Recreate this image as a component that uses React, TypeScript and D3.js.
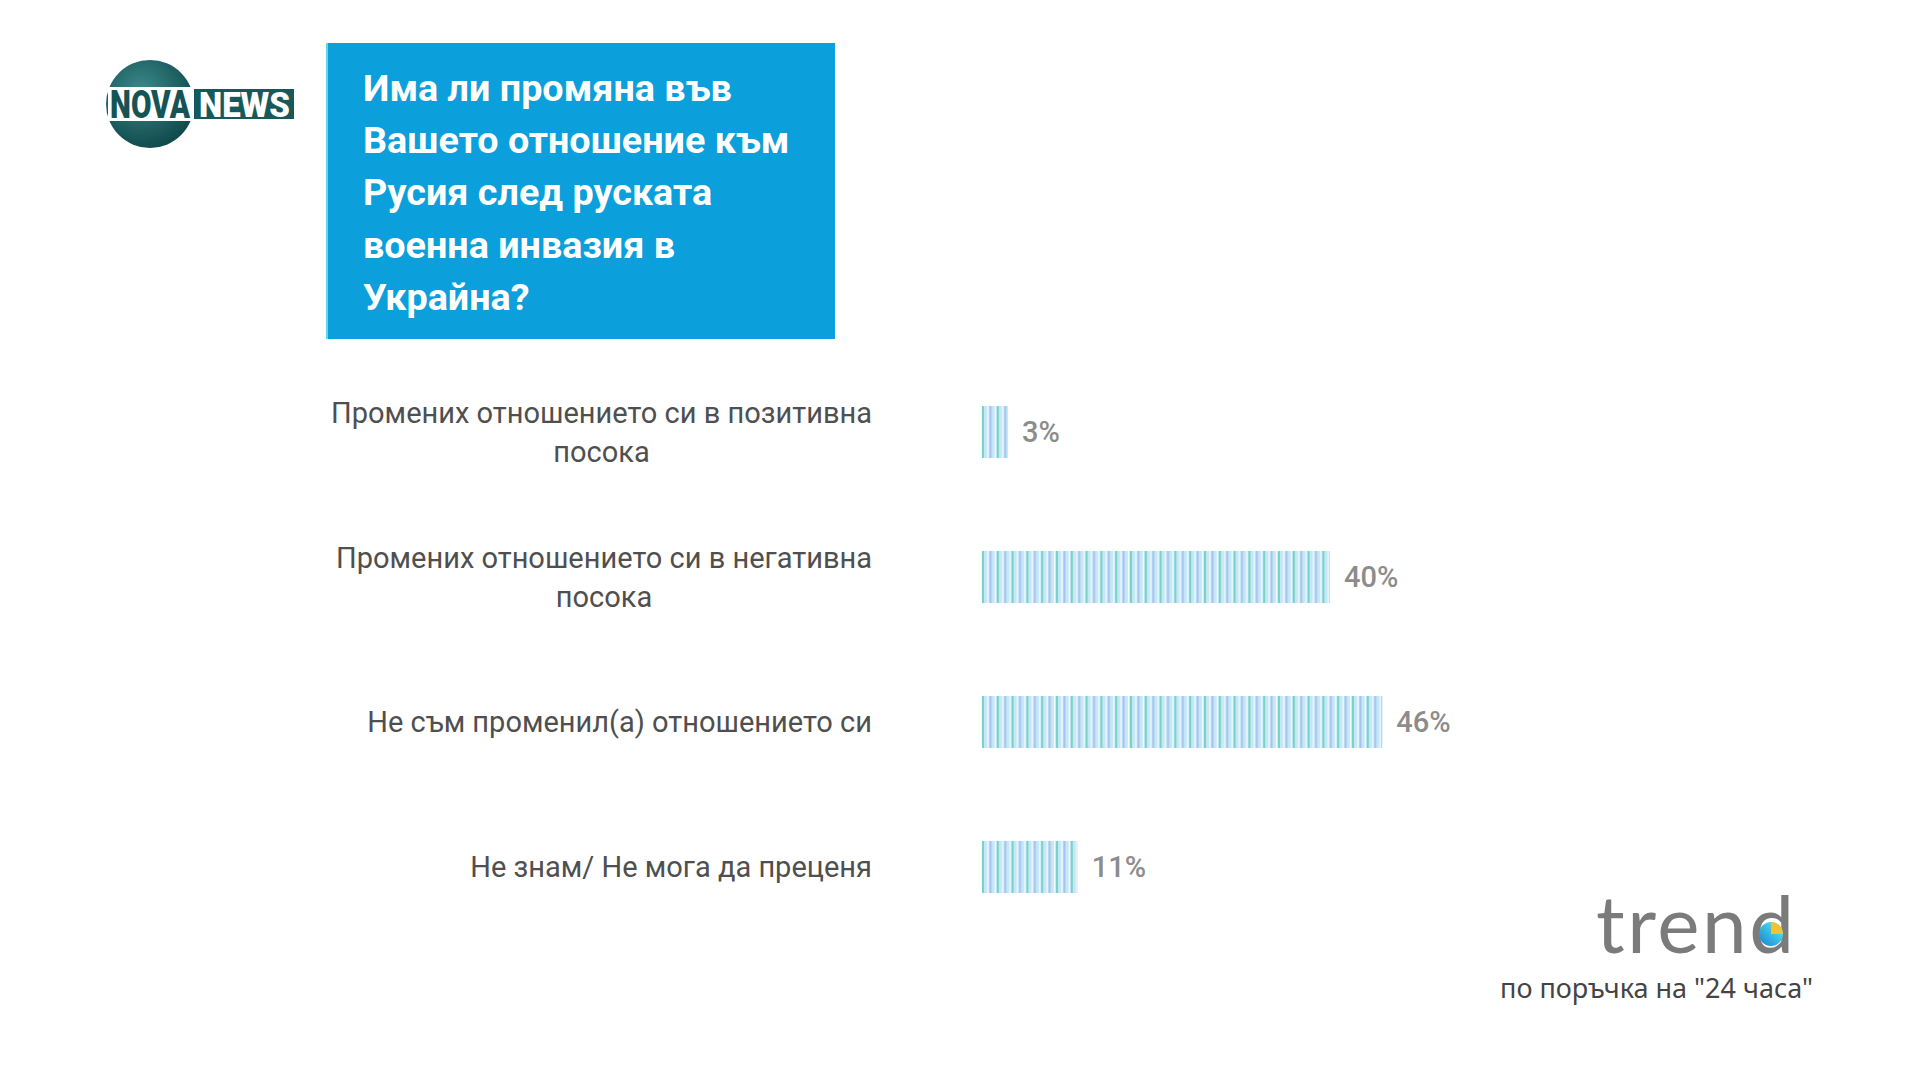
import React, { useEffect, useRef } from "react";
import * as d3 from "d3";

const titleLines = ["Има ли промяна във", "Вашето отношение към", "Русия след руската", "военна инвазия в", "Украйна?"];
const categories = [
  "Промених отношението си в позитивна\nпосока",
  "Промених отношението си в негативна\nпосока",
  "Не съм променил(а) отношението си",
  "Не знам/ Не мога да преценя",
];
const values = [3, 40, 46, 11];
const sourceLabel = "по поръчка на \"24 часа\"";
const brandLabel = "trend";

export default function App() {
  const ref = useRef<SVGSVGElement | null>(null);

  useEffect(() => {
    const svg = d3.select(ref.current);
    svg.selectAll("*").remove();
    const W = 1920, H = 1080;

    svg.append("rect").attr("width", W).attr("height", H).attr("fill", "#ffffff");

    const defs = svg.append("defs");
    const pat = defs.append("pattern").attr("id", "stripes").attr("patternUnits", "userSpaceOnUse")
      .attr("width", 14.8).attr("height", 60).attr("patternTransform", "translate(982,0)");
    pat.append("rect").attr("width", 14.8).attr("height", 60).attr("fill", "#c6e7f7");
    pat.append("rect").attr("x", 0).attr("width", 2).attr("height", 60).attr("fill", "#78d3c6");
    pat.append("rect").attr("x", 5.3).attr("width", 1.3).attr("height", 60).attr("fill", "#f2fbff");
    pat.append("rect").attr("x", 7.4).attr("width", 2).attr("height", 60).attr("fill", "#a6c2ee");
    pat.append("rect").attr("x", 12.7).attr("width", 1.3).attr("height", 60).attr("fill", "#f2fbff");

    const rg = defs.append("radialGradient").attr("id", "logoGrad").attr("cx", "40%").attr("cy", "35%").attr("r", "70%");
    rg.append("stop").attr("offset", "0%").attr("stop-color", "#3b8a8c");
    rg.append("stop").attr("offset", "100%").attr("stop-color", "#0e4649");

    const pg = defs.append("linearGradient").attr("id", "pieGrad").attr("x1", "0").attr("y1", "1").attr("x2", "1").attr("y2", "0");
    pg.append("stop").attr("offset", "0%").attr("stop-color", "#1a7fd0");
    pg.append("stop").attr("offset", "60%").attr("stop-color", "#3fc6e6");
    pg.append("stop").attr("offset", "100%").attr("stop-color", "#9fe0c8");

    // Logo NOVA NEWS
    const logo = svg.append("g");
    logo.append("circle").attr("cx", 150).attr("cy", 104).attr("r", 44).attr("fill", "url(#logoGrad)");
    logo.append("rect").attr("x", 108).attr("y", 87).attr("width", 188).attr("height", 34).attr("fill", "#ffffff");
    logo.append("rect").attr("x", 194).attr("y", 89).attr("width", 100).attr("height", 30).attr("fill", "#17585b");
    const fitText = (txt: string, x0: number, y0: number, size: number, target: number, fill: string) => {
      const t = logo.append("text").attr("font-family", "Roboto").attr("font-weight", 900)
        .attr("font-size", size).attr("fill", fill).text(txt);
      const w = (t.node() as SVGTextElement).getComputedTextLength();
      t.attr("transform", `translate(${x0},${y0}) scale(${target / w},1)`);
    };
    fitText("NOVA", 110, 118, 38, 80, "#165356");
    fitText("NEWS", 199, 117, 36, 91, "#ffffff");

    // Title box
    svg.append("rect").attr("x", 327).attr("y", 43).attr("width", 508).attr("height", 296).attr("fill", "#0b9fdb");
    svg.append("rect").attr("x", 326).attr("y", 43).attr("width", 2).attr("height", 296).attr("fill", "#5fd8ee");
    const tg = svg.append("g");
    titleLines.forEach((t, i) => {
      tg.append("text").attr("transform", `translate(363,${101 + i * 52.2}) scale(1.02,1)`)
        .attr("font-family", "Roboto").attr("font-weight", 700).attr("font-size", 37)
        .attr("fill", "#ffffff").text(t);
    });

    // Scales
    const x = d3.scaleLinear().domain([0, 100]).range([982, 1852]);
    const y = d3.scaleBand<string>().domain(categories).range([406, 893]).paddingInner(0.641).paddingOuter(0);

    const bars = svg.append("g");
    categories.forEach((c, i) => {
      bars.append("rect").attr("x", x(0)).attr("y", y(c)!).attr("width", x(values[i]) - x(0))
        .attr("height", y.bandwidth()).attr("fill", "url(#stripes)");
      bars.append("text").attr("x", x(values[i]) + 14).attr("y", y(c)! + y.bandwidth() / 2).attr("dy", "0.36em")
        .attr("font-family", "Roboto").attr("font-weight", 500).attr("font-size", 29).attr("fill", "#8c8c8c")
        .text(`${values[i]}%`);
    });

    // Category labels (centered lines, block right-aligned)
    const rightEdge = 872;
    const lg = svg.append("g");
    categories.forEach((c) => {
      const lines = c.split("\n");
      const cy = y(c)! + y.bandwidth() / 2;
      const lh = 39;
      const texts = lines.map((ln, j) => {
        const t = lg.append("text").attr("font-family", "Roboto").attr("font-size", 29)
          .attr("fill", "#4f4f4f").attr("text-anchor", "middle").text(ln);
        return { t, j };
      });
      const widths = texts.map(({ t }) => (t.node() as SVGTextElement).getComputedTextLength());
      const maxW = Math.max(...widths);
      const cx = rightEdge - maxW / 2;
      texts.forEach(({ t, j }) => {
        const yy = cy + (j - (lines.length - 1) / 2) * lh;
        t.attr("x", cx).attr("y", yy).attr("dy", "0.36em");
      });
    });

    // trend logo
    const br = svg.append("g");
    br.append("text").attr("x", 1596).attr("y", 953).attr("font-family", "Lato").attr("font-weight", 400)
      .attr("font-size", 80).attr("fill", "#7b7b7b")
      .attr("textLength", 198).attr("lengthAdjust", "spacing").text(brandLabel);
    br.append("circle").attr("cx", 1771).attr("cy", 934).attr("r", 12).attr("fill", "url(#pieGrad)");
    br.append("path").attr("d", "M1771,934 L1771,922 A12,12 0 0,1 1783,934 Z").attr("fill", "#f2c230");
    br.append("text").attr("x", 1813).attr("y", 998).attr("text-anchor", "end")
      .attr("font-family", "Noto Sans").attr("font-size", 27).attr("fill", "#444444").text(sourceLabel);
  }, []);

  return (
    <svg ref={ref} width={1920} height={1080} style={{ position: "absolute", left: 0, top: 0, display: "block" }} />
  );
}
